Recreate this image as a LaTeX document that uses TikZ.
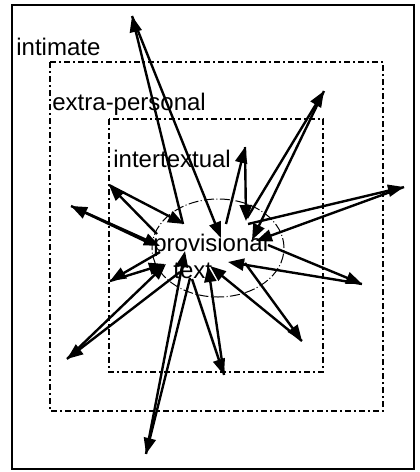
\documentclass[tikz,border=0pt]{standalone}
\usepackage{fontspec}
\setmainfont{Liberation Sans}
\usetikzlibrary{arrows.meta}

\tikzset{
  zone/.style={line width=1pt, dash pattern=on 3pt off 1.5pt on 1pt off 1.5pt},
  hub/.style={line width=0.5pt, dash pattern=on 5pt off 1.2pt on 0.5pt off 1.2pt},
  ray/.style={line width=1.2pt, -{Triangle[length=8pt,width=6pt]}},
  tag/.style={anchor=base west, inner sep=0pt, font=\fontsize{12}{14}\selectfont},
}

\begin{document}
\begin{tikzpicture}[x=0.5pt,y=-0.5pt]
\useasboundingbox (0,0) rectangle (419,472);
% frame and nested zones
\draw[line width=1.2pt] (12,5) rectangle (414,469);
\draw[zone] (50,62) rectangle (383,411);
\draw[zone] (109,119) rectangle (323,372);
\draw[hub] (218,248) ellipse [x radius=33pt, y radius=24.5pt];

\node[tag] (intimate) at (16,55) {intimate};
\node[tag] (extra) at (52,110) {extra-personal};
\node[tag] (intertext) at (113,167) {intertextual};
\node[tag] (prov) at (153,251) {provisional};
\node[tag] (text) at (173,278) {text};

% outer ends of the rays
\coordinate (o1) at (132,16);
\coordinate (o2) at (324,91);
\coordinate (o3) at (245,147);
\coordinate (o4) at (404,187);
\coordinate (o5) at (362,284);
\coordinate (o6) at (302,341);
\coordinate (o7) at (224,375);
\coordinate (o8) at (146,454);
\coordinate (o9) at (67,359);
\coordinate (o10) at (110,281);
\coordinate (o11) at (71,206);
\coordinate (o12) at (109,185);

% each ray: one line out, one line back in
\draw[ray] (183,224) -- (o1);
\draw[ray] (o1) -- (221,238);
\draw[ray] (247,218) -- (o2);
\draw[ray] (o2) -- (252,240);
\draw[ray] (226,224) -- (o3);
\draw[ray] (o3) -- (246,221);
\draw[ray] (248,224) -- (o4);
\draw[ray] (o4) -- (256,241);
\draw[ray] (268,245) -- (o5);
\draw[ray] (o5) -- (228,262);
\draw[ray] (245,263) -- (o6);
\draw[ray] (o6) -- (210,266);
\draw[ray] (192,279) -- (o7);
\draw[ray] (o7) -- (208,266);
\draw[ray] (190,278) -- (o8);
\draw[ray] (o8) -- (185,251);
\draw[ray] (180,272) -- (o9);
\draw[ray] (o9) -- (166,264);
\draw[ray] (160,252) -- (o10);
\draw[ray] (o10) -- (165,264);
\draw[ray] (147,242) -- (o11);
\draw[ray] (o11) -- (160,246);
\draw[ray] (157,234) -- (o12);
\draw[ray] (o12) -- (184,224);
\end{tikzpicture}
\end{document}
